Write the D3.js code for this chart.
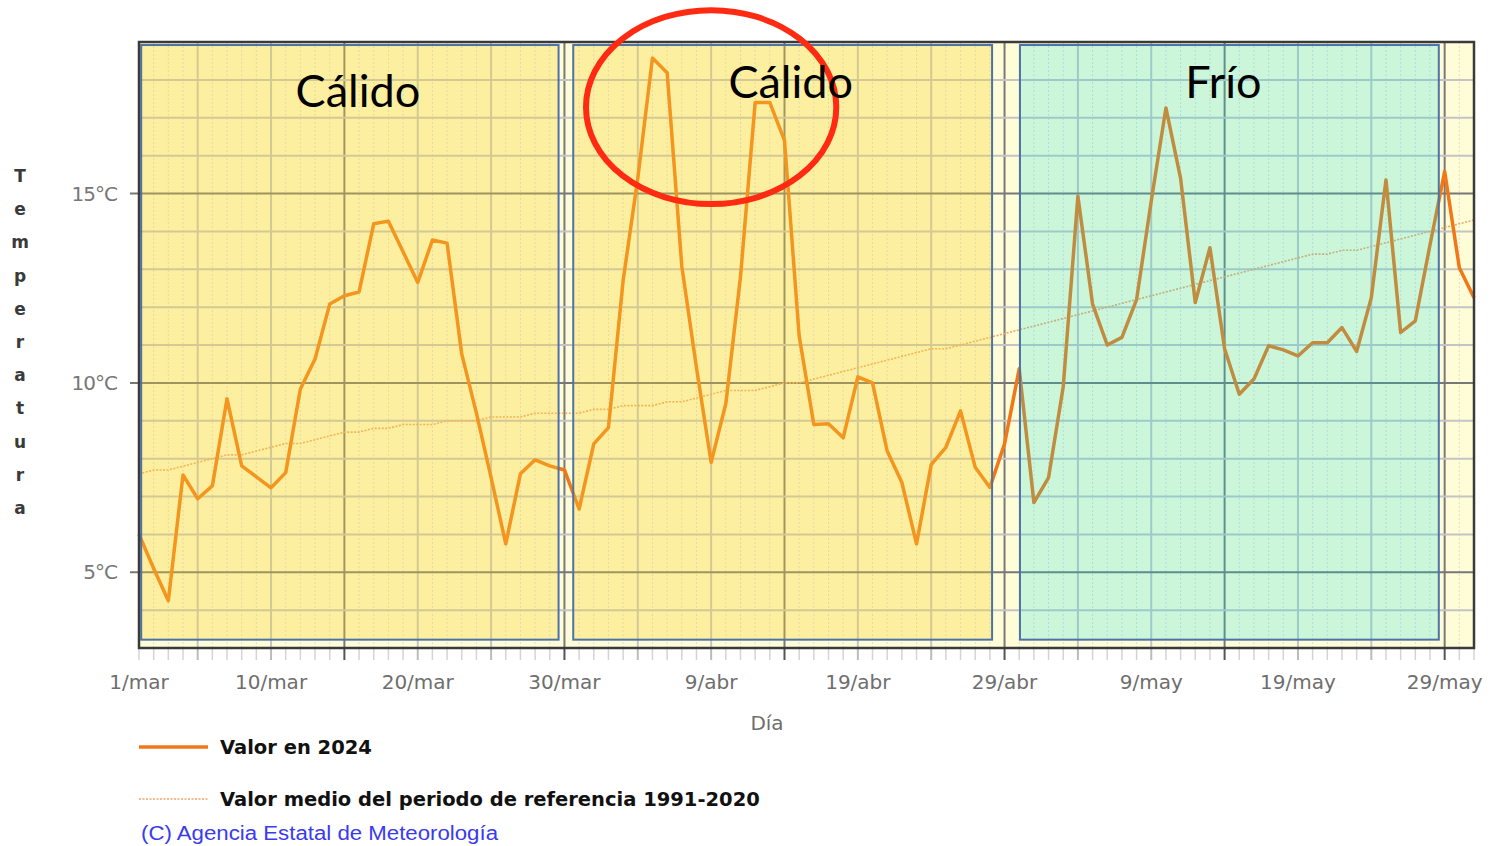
<!DOCTYPE html>
<html>
<head>
<meta charset="utf-8">
<script src="https://cdn.jsdelivr.net/npm/d3@7"></script>
<style>
  body { margin: 0; background: #fff; }
  svg { display: block; }
</style>
</head>
<body>
<div id="chart"></div>
<script>
// temperatura diaria, 1/mar (dia 0) a 31/may (dia 91)
const temp2024 = [6.0, 5.1, 4.25, 7.57, 6.94, 7.28, 9.58, 7.81, 7.52, 7.23,
  7.63, 9.84, 10.63, 12.08, 12.3, 12.4, 14.2, 14.27, 13.46, 12.65,
  13.77, 13.69, 10.76, 9.2, 7.5, 5.75, 7.6, 7.97, 7.81, 7.7,
  6.67, 8.39, 8.82, 12.7, 15.4, 18.58, 18.19, 13.08, 10.4, 7.9,
  9.45, 12.8, 17.4, 17.4, 16.4, 11.24, 8.9, 8.92, 8.55, 10.16,
  10.0, 8.2, 7.37, 5.75, 7.84, 8.3, 9.26, 7.77, 7.24, 8.39,
  10.37, 6.84, 7.5, 9.9, 14.93, 12.08, 11.0, 11.2, 12.2, 14.8,
  17.26, 15.4, 12.12, 13.57, 10.9, 9.7, 10.1, 10.98, 10.87, 10.71,
  11.06, 11.06, 11.46, 10.83, 12.25, 15.36, 11.33, 11.64, 13.64, 15.58,
  13.04, 12.25];

const tempRef = [7.6, 7.7, 7.7, 7.8, 7.9, 8.0, 8.1, 8.1, 8.2, 8.3,
  8.4, 8.4, 8.5, 8.6, 8.7, 8.7, 8.8, 8.8, 8.9, 8.9,
  8.9, 9.0, 9.0, 9.0, 9.1, 9.1, 9.1, 9.2, 9.2, 9.2,
  9.2, 9.3, 9.3, 9.4, 9.4, 9.4, 9.5, 9.5, 9.6, 9.7,
  9.8, 9.8, 9.8, 9.9, 10.0, 10.0, 10.1, 10.2, 10.3, 10.4,
  10.5, 10.6, 10.7, 10.8, 10.9, 10.9, 11.0, 11.1, 11.2, 11.3,
  11.4, 11.5, 11.6, 11.7, 11.8, 11.9, 12.0, 12.1, 12.2, 12.3,
  12.4, 12.5, 12.6, 12.7, 12.8, 12.9, 13.0, 13.1, 13.2, 13.3,
  13.4, 13.4, 13.5, 13.5, 13.6, 13.7, 13.8, 13.9, 14.0, 14.1,
  14.2, 14.3];

const tickDays = [0, 9, 19, 29, 39, 49, 59, 69, 79, 89];
const tickLabels = ['1/mar', '10/mar', '20/mar', '30/mar', '9/abr', '19/abr', '29/abr', '9/may', '19/may', '29/may'];
const yTicks = [5, 10, 15];

// periodos marcados encima del grafico (en dias)
const zoneStart = [0.15, 29.6, 60.05];
const zoneEnd = [28.6, 58.15, 88.6];
const zoneLabel = ['Cálido', 'Cálido', 'Frío'];
const zoneKind = ['calido', 'calido', 'frio'];

const W = 1493, H = 846;
const m = { left: 139, right: 1474, top: 42, bottom: 648 };

const x = d3.scaleLinear().domain([0, 91]).range([m.left, m.right]);
const y = d3.scaleLinear().domain([3, 19]).range([m.bottom, m.top]);

const svg = d3.select('#chart').append('svg')
  .attr('width', W)
  .attr('height', H)
  .style('font-family', 'DejaVu Sans, sans-serif');

// fondo del area de grafico
svg.append('rect')
  .attr('x', m.left).attr('y', m.top)
  .attr('width', m.right - m.left).attr('height', m.bottom - m.top)
  .attr('fill', '#fffcd8');

const grid = svg.append('g');
const allDays = d3.range(0, 92);

// lineas diarias punteadas
grid.selectAll('line.day')
  .data(allDays.filter(d => d % 5 !== 4))
  .enter().append('line')
  .attr('x1', d => x(d)).attr('x2', d => x(d))
  .attr('y1', m.top).attr('y2', m.bottom)
  .attr('stroke', '#dcdcdc')
  .attr('stroke-dasharray', '2,2');

// marcas cortas bajo el eje, una por dia
grid.selectAll('line.tick')
  .data(allDays)
  .enter().append('line')
  .attr('x1', d => x(d)).attr('x2', d => x(d))
  .attr('y1', m.bottom).attr('y2', m.bottom + 12)
  .attr('stroke', d => d % 15 === 14 ? '#555' : (d % 5 === 4 ? '#bbb' : '#d4d4d4'))
  .attr('stroke-width', d => d % 5 === 4 ? 2 : 1.5);

// cada 5 dias
grid.selectAll('line.five')
  .data(allDays.filter(d => d % 5 === 4 && d % 15 !== 14))
  .enter().append('line')
  .attr('x1', d => x(d)).attr('x2', d => x(d))
  .attr('y1', m.top).attr('y2', m.bottom)
  .attr('stroke', '#c4c4c4')
  .attr('stroke-width', 2);

// cada 15 dias
grid.selectAll('line.fifteen')
  .data(allDays.filter(d => d % 15 === 14))
  .enter().append('line')
  .attr('x1', d => x(d)).attr('x2', d => x(d))
  .attr('y1', m.top).attr('y2', m.bottom)
  .attr('stroke', '#7a7a7a')
  .attr('stroke-width', 2);

// horizontales
grid.selectAll('line.h')
  .data(d3.range(4, 19).filter(v => v % 5 !== 0))
  .enter().append('line')
  .attr('x1', m.left).attr('x2', m.right)
  .attr('y1', d => y(d)).attr('y2', d => y(d))
  .attr('stroke', '#c4c4c4')
  .attr('stroke-width', 2);

grid.selectAll('line.hmajor')
  .data(yTicks)
  .enter().append('line')
  .attr('x1', m.left - 9).attr('x2', m.right)
  .attr('y1', d => y(d)).attr('y2', d => y(d))
  .attr('stroke', '#777')
  .attr('stroke-width', 2);

// series
const line = d3.line()
  .x((d, i) => x(i))
  .y(d => y(d));

svg.append('path')
  .datum(tempRef)
  .attr('d', line)
  .attr('fill', 'none')
  .attr('stroke', '#f4a468')
  .attr('stroke-width', 1.6)
  .attr('stroke-dasharray', '2,1.5');

svg.append('path')
  .datum(temp2024)
  .attr('d', line)
  .attr('fill', 'none')
  .attr('stroke', '#f07818')
  .attr('stroke-width', 3.5)
  .attr('stroke-linejoin', 'round');

// rectangulos de los periodos
const zoneFill = { calido: '#f8d22c', frio: '#00e1e0' };
const zoneOpacity = { calido: 0.32, frio: 0.2 };

zoneLabel.forEach((lab, i) => {
  const x0 = x(zoneStart[i]), x1 = x(zoneEnd[i]);
  svg.append('rect')
    .attr('x', x0).attr('y', y(18.92))
    .attr('width', x1 - x0).attr('height', y(3.22) - y(18.92))
    .attr('fill', zoneFill[zoneKind[i]])
    .attr('fill-opacity', zoneOpacity[zoneKind[i]])
    .attr('stroke', '#4d72a6')
    .attr('stroke-width', 2);
});

// marco
svg.append('rect')
  .attr('x', m.left).attr('y', m.top)
  .attr('width', m.right - m.left).attr('height', m.bottom - m.top)
  .attr('fill', 'none')
  .attr('stroke', '#3a3a3a')
  .attr('stroke-width', 2.5);

// etiquetas eje x
svg.selectAll('text.xt')
  .data(tickDays)
  .enter().append('text')
  .attr('x', d => x(d))
  .attr('y', 689)
  .attr('text-anchor', 'middle')
  .attr('font-size', 20)
  .attr('fill', '#6e6e6e')
  .text((d, i) => tickLabels[i]);

svg.append('text')
  .attr('x', 767).attr('y', 730)
  .attr('text-anchor', 'middle')
  .attr('font-size', 20)
  .attr('fill', '#6e6e6e')
  .text('Día');

// etiquetas eje y
svg.selectAll('text.yt')
  .data(yTicks)
  .enter().append('text')
  .attr('x', 117)
  .attr('y', d => y(d) + 7)
  .attr('text-anchor', 'end')
  .attr('font-size', 20)
  .attr('fill', '#777')
  .attr('letter-spacing', -1)
  .text(d => d + '°C');

// titulo vertical, una letra debajo de otra
const yTitle = 'Temperatura'.split('');
svg.selectAll('text.ytitle')
  .data(yTitle)
  .enter().append('text')
  .attr('x', 20)
  .attr('y', (d, i) => 182 + i * 33.2)
  .attr('text-anchor', 'middle')
  .attr('font-size', 17)
  .attr('font-weight', 'bold')
  .attr('fill', '#3a3a3a')
  .text(d => d);

// elipse roja
svg.append('ellipse')
  .attr('cx', x(39))
  .attr('cy', y(17.28))
  .attr('rx', x(8.53) - x(0))
  .attr('ry', y(0) - y(2.56))
  .attr('fill', 'none')
  .attr('stroke', '#ff2a12')
  .attr('stroke-width', 6);

// textos de los periodos
const labelDx = [8, 8, -6];
const labelBase = [107, 98, 98];
zoneLabel.forEach((lab, i) => {
  svg.append('text')
    .attr('x', (x(zoneStart[i]) + x(zoneEnd[i])) / 2 + labelDx[i])
    .attr('y', labelBase[i])
    .attr('text-anchor', 'middle')
    .attr('font-family', 'Lato, sans-serif')
    .attr('font-size', 45)
    .attr('fill', '#000')
    .text(lab);
});

// leyenda
svg.append('line')
  .attr('x1', 139).attr('x2', 208)
  .attr('y1', 747).attr('y2', 747)
  .attr('stroke', '#f07818')
  .attr('stroke-width', 3.5);

svg.append('text')
  .attr('x', 220).attr('y', 754)
  .attr('font-size', 19.5)
  .attr('font-weight', 'bold')
  .attr('fill', '#111')
  .text('Valor en 2024');

svg.append('line')
  .attr('x1', 139).attr('x2', 208)
  .attr('y1', 799).attr('y2', 799)
  .attr('stroke', '#f4a468')
  .attr('stroke-width', 1.6)
  .attr('stroke-dasharray', '2,1.5');

svg.append('text')
  .attr('x', 220).attr('y', 806)
  .attr('font-size', 19.5)
  .attr('font-weight', 'bold')
  .attr('fill', '#111')
  .text('Valor medio del periodo de referencia 1991-2020');

svg.append('text')
  .attr('x', 141).attr('y', 840)
  .attr('font-family', 'Liberation Sans, sans-serif')
  .attr('font-size', 20)
  .attr('fill', '#3a3af0')
  .attr('textLength', 357)
  .attr('lengthAdjust', 'spacingAndGlyphs')
  .text('(C) Agencia Estatal de Meteorología');
</script>
</body>
</html>
